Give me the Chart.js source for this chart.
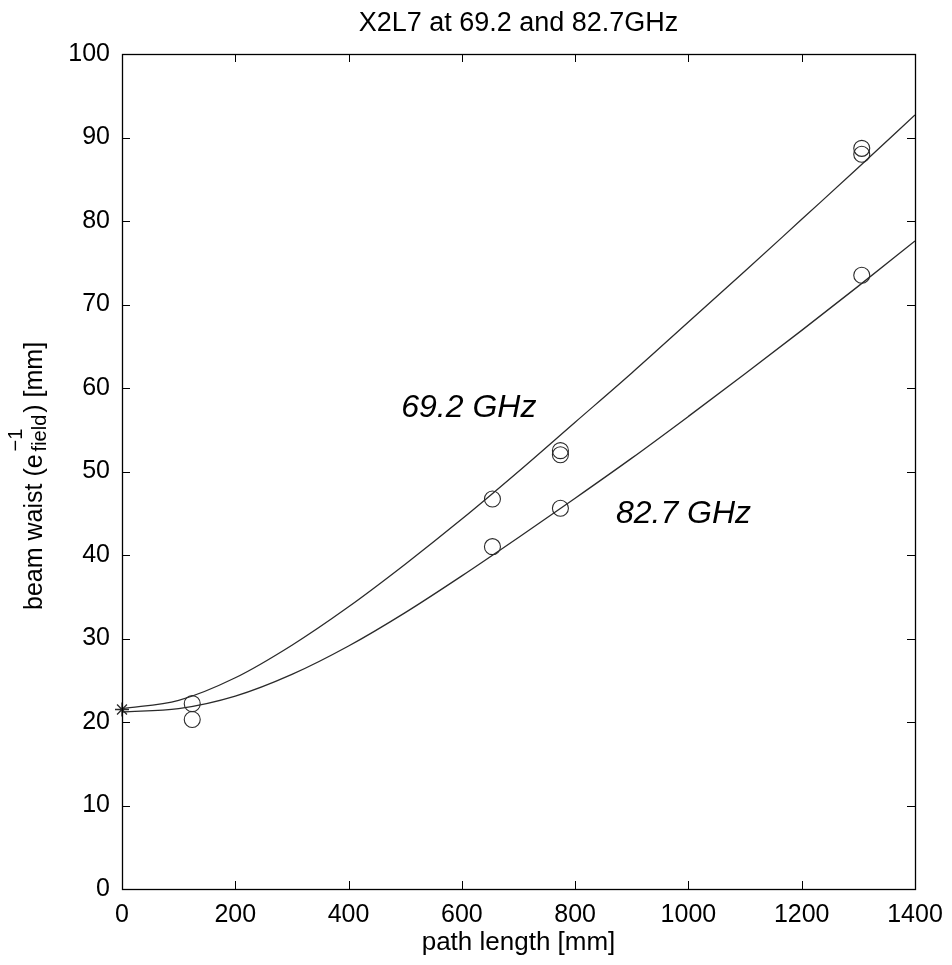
<!DOCTYPE html>
<html>
<head>
<meta charset="utf-8">
<script src="https://cdn.jsdelivr.net/npm/chart.js@4/dist/chart.umd.min.js"></script>
<style>
  html, body { margin: 0; padding: 0; background: #ffffff; }
  #c { display: block; }
</style>
</head>
<body>
<canvas id="c" width="952" height="965"></canvas>
<script>
// ---------------- data ----------------
const pathGrid   = [0, 100, 200, 300, 400, 500, 600, 700, 800, 900, 1000, 1100, 1200, 1300, 1400];
const fit692     = [21.6, 22.6, 25.3, 29.2, 33.8, 38.9, 44.3, 50.0, 55.9, 61.8, 67.9, 74.0, 80.2, 86.4, 92.7];
const fit827     = [21.2, 21.6, 23.1, 25.7, 29.1, 33.1, 37.5, 42.1, 46.8, 51.6, 56.6, 61.7, 66.9, 72.2, 77.6];

const meas692X   = [124, 654, 774, 774, 1306, 1306];
const meas692Y   = [22.2, 46.7, 52.5, 52.0, 88.7, 88.0];
const meas827X   = [124, 654, 774, 1306];
const meas827Y   = [20.3, 41.0, 45.6, 73.5];

const waistX     = [0];
const waistY     = [21.5];

const xTicks     = [0, 200, 400, 600, 800, 1000, 1200, 1400];
const yTicks     = [0, 10, 20, 30, 40, 50, 60, 70, 80, 90, 100];

const titleText  = 'X2L7 at 69.2 and 82.7GHz';
const xLabelText = 'path length [mm]';
const labels692  = { text: '69.2 GHz', x: 493, y: 56.5 };
const labels827  = { text: '82.7 GHz', x: 872, y: 43.8 };

// ---------------- drawing ----------------
const FONT = '"Liberation Sans", Arial, Helvetica, sans-serif';
const INK = '#000000';
const LINE = '#2a2a2a';

const pts = (xs, ys) => xs.map((x, i) => ({ x: x, y: ys[i] }));

const framePlugin = {
  id: 'frame',
  afterDraw(chart) {
    const ctx = chart.ctx;
    const a = chart.chartArea;
    const xs = chart.scales.x, ys = chart.scales.y;
    ctx.save();
    // box
    ctx.strokeStyle = INK;
    ctx.lineWidth = 1.3;
    ctx.strokeRect(Math.round(a.left) + 0.5, Math.round(a.top) + 0.5,
                   Math.round(a.right - a.left), Math.round(a.bottom - a.top));
    // inward ticks
    const tl = 8;
    ctx.lineWidth = 1;
    ctx.beginPath();
    xTicks.forEach(v => {
      const px = Math.round(xs.getPixelForValue(v)) + 0.5;
      ctx.moveTo(px, a.bottom); ctx.lineTo(px, a.bottom - tl);
      ctx.moveTo(px, a.top); ctx.lineTo(px, a.top + tl);
    });
    yTicks.forEach(v => {
      const py = Math.round(ys.getPixelForValue(v)) + 0.5;
      ctx.moveTo(a.left, py); ctx.lineTo(a.left + tl, py);
      ctx.moveTo(a.right, py); ctx.lineTo(a.right - tl, py);
    });
    ctx.stroke();

    const cx = (a.left + a.right) / 2;
    ctx.fillStyle = INK;
    // title
    ctx.font = '27px ' + FONT;
    ctx.textAlign = 'center';
    ctx.textBaseline = 'alphabetic';
    ctx.fillText(titleText, cx, 31);
    // x label
    ctx.font = '26px ' + FONT;
    ctx.fillText(xLabelText, cx, 950);

    // y label with super/subscript (starts at the bottom, reads upward)
    ctx.save();
    ctx.translate(42, 610);
    ctx.rotate(-Math.PI / 2);
    const m1 = 'beam waist (e', m2 = ') [mm]', sup = '\u22121', sub = 'field';
    ctx.textAlign = 'left';
    ctx.font = '25px ' + FONT;
    const w1 = ctx.measureText(m1).width;
    ctx.font = '20px ' + FONT;
    const w2 = Math.max(ctx.measureText(sup).width, ctx.measureText(sub).width);
    let x0 = 0;
    ctx.font = '25px ' + FONT;
    ctx.fillText(m1, x0, 0);
    x0 += w1 + 3;
    ctx.font = '20px ' + FONT;
    ctx.fillText(sup, x0, -20);
    ctx.fillText(sub, x0, 4);
    x0 += w2 + 2;
    ctx.font = '25px ' + FONT;
    ctx.fillText(m2, x0, 0);
    ctx.restore();

    // curve annotations
    ctx.font = 'italic 32px ' + FONT;
    ctx.textAlign = 'left';
    [labels692, labels827].forEach(l => {
      ctx.fillText(l.text, xs.getPixelForValue(l.x), ys.getPixelForValue(l.y));
    });
    ctx.restore();
  }
};

new Chart(document.getElementById('c').getContext('2d'), {
  type: 'line',
  data: {
    datasets: [
      { label: '69.2 GHz fit', data: pts(pathGrid, fit692), borderColor: LINE, borderWidth: 1.3,
        pointRadius: 0, cubicInterpolationMode: 'monotone', fill: false },
      { label: '82.7 GHz fit', data: pts(pathGrid, fit827), borderColor: LINE, borderWidth: 1.3,
        pointRadius: 0, cubicInterpolationMode: 'monotone', fill: false },
      { label: '69.2 GHz measured', data: pts(meas692X, meas692Y), showLine: false,
        pointStyle: 'circle', pointRadius: 8, pointBorderWidth: 1.1,
        pointBorderColor: LINE, pointBackgroundColor: 'rgba(0,0,0,0)' },
      { label: '82.7 GHz measured', data: pts(meas827X, meas827Y), showLine: false,
        pointStyle: 'circle', pointRadius: 8, pointBorderWidth: 1.1,
        pointBorderColor: LINE, pointBackgroundColor: 'rgba(0,0,0,0)' },
      { label: 'waist', data: pts(waistX, waistY), showLine: false, clip: false,
        pointStyle: 'star', pointRadius: 7, pointBorderWidth: 1.3,
        pointBorderColor: LINE, pointBackgroundColor: 'rgba(0,0,0,0)' }
    ]
  },
  options: {
    responsive: false,
    animation: false,
    devicePixelRatio: 1,
    layout: { padding: { left: 0, top: 54, right: 37, bottom: 0 } },
    plugins: { legend: { display: false }, tooltip: { enabled: false }, title: { display: false } },
    scales: {
      x: {
        type: 'linear', min: 0, max: 1400,
        afterBuildTicks: s => { s.ticks = xTicks.map(v => ({ value: v })); },
        ticks: { color: INK, font: { family: FONT, size: 25 }, padding: 3, maxRotation: 0, autoSkip: false,
                 callback: v => String(v) },
        grid: { display: false }, border: { display: false },
        afterFit: s => { s.height = 76; }
      },
      y: {
        type: 'linear', min: 0, max: 100,
        afterBuildTicks: s => { s.ticks = yTicks.map(v => ({ value: v })); },
        ticks: { color: INK, font: { family: FONT, size: 25 }, padding: 4, autoSkip: false,
                 callback: v => String(v) },
        grid: { display: false }, border: { display: false },
        afterFit: s => { s.width = 122; }
      }
    }
  },
  plugins: [framePlugin]
});
</script>
</body>
</html>
